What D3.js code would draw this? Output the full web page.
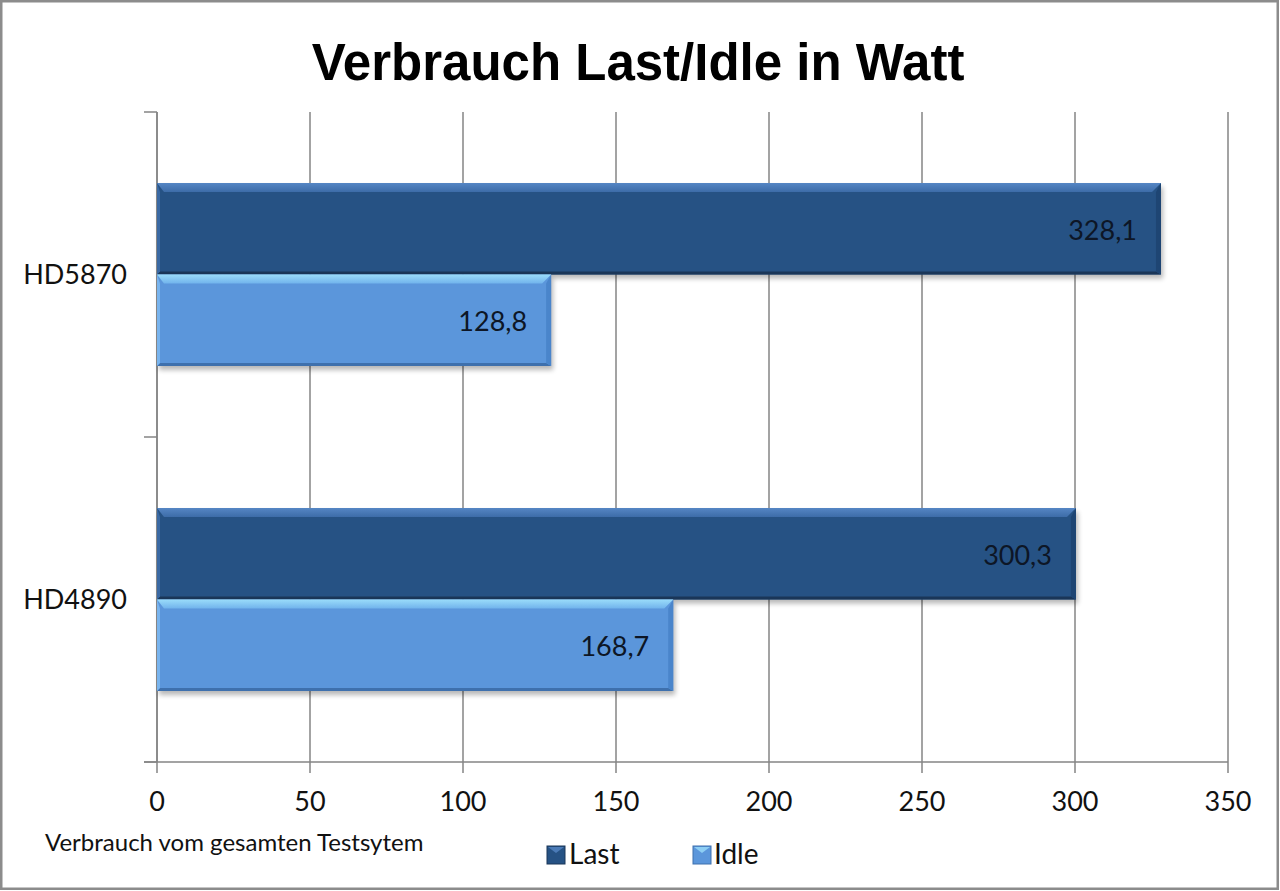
<!DOCTYPE html>
<html>
<head>
<meta charset="utf-8">
<script src="https://cdn.jsdelivr.net/npm/d3@7"></script>
<style>
  body { margin: 0; background: #fff; }
  svg { display: block; }
  text { font-family: Lato, "Open Sans", sans-serif; fill: #111; }
</style>
</head>
<body>
<script>
// Verbrauch Last/Idle — horizontal 3D-ish bar chart
const categories = ["HD5870", "HD4890"];
const seriesNames = ["Last", "Idle"];
const lastValues = [328.1, 300.3];
const idleValues = [128.8, 168.7];
const xTickValues = [0, 50, 100, 150, 200, 250, 300, 350];

const W = 1280, H = 891;
const plot = { left: 157, right: 1228, top: 112, bottom: 762 };

const SERIES_STYLE = {
    Last: { base: "#265284", top1: "#5586c4", top2: "#3d6ca8", bottom: "#1a3658", right: "#1e4573", left: "#3a69a3" },
    Idle: { base: "#5b96db", top1: "#9adcfa", top2: "#71b3ec", bottom: "#3e70ad", right: "#4a85cb", left: "#78b4ee" },
};

const de = d3.formatLocale({ decimal: ",", thousands: ".", grouping: [3], currency: ["", " €"] });
const fmt = de.format(".1f");

const rows = categories.map((c, i) => ({ cat: c, Last: lastValues[i], Idle: idleValues[i] }));

const svg = d3.select("body").append("svg").attr("width", W).attr("height", H);

const defs = svg.append("defs");
const shadow = defs.append("filter").attr("id", "shadow")
    .attr("x", "-5%").attr("y", "-20%").attr("width", "115%").attr("height", "150%");
shadow.append("feGaussianBlur").attr("stdDeviation", 2.5);

seriesNames.forEach(s => {
    const st = SERIES_STYLE[s];
    const g = defs.append("linearGradient").attr("id", "top-" + s)
        .attr("x1", 0).attr("y1", 0).attr("x2", 0).attr("y2", 1);
    g.append("stop").attr("offset", "0%").attr("stop-color", st.top1);
    g.append("stop").attr("offset", "100%").attr("stop-color", st.top2);
});

// outer frame
svg.append("rect")
    .attr("x", 1.25).attr("y", 1.25).attr("width", W - 3.5).attr("height", H - 3.5)
    .attr("fill", "#fff").attr("stroke", "#8c8c8c").attr("stroke-width", 2.5);

// title
svg.append("text")
    .attr("x", 638).attr("y", 80)
    .attr("text-anchor", "middle")
    .style("font-family", "'Liberation Sans', Arial, sans-serif")
    .style("font-weight", "bold")
    .style("font-size", "51px")
    .style("fill", "#000")
    .text("Verbrauch Last/Idle in Watt");

// scales
const x = d3.scaleLinear().domain([0, 350]).range([plot.left, plot.right]);
const y = d3.scaleBand().domain(categories).range([plot.top, plot.bottom])
    .paddingInner(0.437).paddingOuter(0.2185);
const ySub = d3.scaleBand().domain(seriesNames).range([0, y.bandwidth()]);

// gridlines (extend below axis as ticks)
svg.append("g").selectAll("line")
    .data(xTickValues)
    .join("line")
    .attr("x1", d => x(d)).attr("x2", d => x(d))
    .attr("y1", plot.top).attr("y2", plot.bottom + 11)
    .attr("stroke", "#858585").attr("stroke-width", 1.5);

// x axis line
svg.append("line")
    .attr("x1", plot.left - 13).attr("x2", plot.right)
    .attr("y1", plot.bottom).attr("y2", plot.bottom)
    .attr("stroke", "#858585").attr("stroke-width", 1.5);

// y axis line + category ticks
const catEdges = [plot.top].concat(categories.map(c => y(c) + y.bandwidth() + y.step() * y.paddingInner() / 2));
svg.append("g").selectAll("line")
    .data(catEdges.slice(0, catEdges.length - 1).concat([plot.bottom]))
    .join("line")
    .attr("x1", plot.left - 13).attr("x2", plot.left)
    .attr("y1", d => d).attr("y2", d => d)
    .attr("stroke", "#858585").attr("stroke-width", 1.5);
svg.append("line")
    .attr("x1", plot.left).attr("x2", plot.left)
    .attr("y1", plot.top).attr("y2", plot.bottom)
    .attr("stroke", "#858585").attr("stroke-width", 1.5);

// x tick labels
svg.append("g").selectAll("text")
    .data(xTickValues)
    .join("text")
    .attr("x", d => x(d)).attr("y", 811)
    .attr("text-anchor", "middle")
    .style("font-size", "27px")
    .text(d => d);

// category labels
svg.append("g").selectAll("text")
    .data(categories)
    .join("text")
    .attr("x", 127).attr("y", d => y(d) + y.bandwidth() / 2 + 9)
    .attr("text-anchor", "end")
    .style("font-size", "27px")
    .text(d => d);

// bars
const barsG = svg.append("g");
rows.forEach(r => {
    seriesNames.forEach(s => {
        const st = SERIES_STYLE[s];
        const x0 = x(0), x1 = x(r[s]);
        const y0 = y(r.cat) + ySub(s), h = ySub.bandwidth();
        const g = barsG.append("g");
        const tb = 9, rb = 5, bb = 3, lb = 3;

        g.append("rect")
            .attr("x", x0 + 2).attr("y", y0 + 4)
            .attr("width", x1 - x0).attr("height", h)
            .attr("fill", "#000").attr("opacity", 0.28)
            .attr("filter", "url(#shadow)");
        g.append("rect")
            .attr("x", x0).attr("y", y0)
            .attr("width", x1 - x0).attr("height", h)
            .attr("fill", st.base);
        // bottom edge
        g.append("polygon")
            .attr("points", [[x0, y0 + h], [x1, y0 + h], [x1 - rb, y0 + h - bb], [x0 + lb, y0 + h - bb]].join(" "))
            .attr("fill", st.bottom);
        // right edge
        g.append("polygon")
            .attr("points", [[x1, y0], [x1, y0 + h], [x1 - rb, y0 + h - bb], [x1 - rb, y0 + tb]].join(" "))
            .attr("fill", st.right);
        // left edge
        g.append("polygon")
            .attr("points", [[x0, y0], [x0 + lb, y0 + tb], [x0 + lb, y0 + h - bb], [x0, y0 + h]].join(" "))
            .attr("fill", st.left);
        // top bevel
        g.append("polygon")
            .attr("points", [[x0, y0], [x1, y0], [x1 - rb - 4, y0 + tb], [x0 + lb + 4, y0 + tb]].join(" "))
            .attr("fill", `url(#top-${s})`);
        // value label
        g.append("text")
            .attr("x", x1 - 24).attr("y", y0 + h / 2 + 11)
            .attr("text-anchor", "end")
            .style("font-size", "27px")
            .style("fill", "#0d1626")
            .text(fmt(r[s]));
    });
});

// footer note
svg.append("text")
    .attr("x", 45).attr("y", 851)
    .style("font-size", "24px")
    .text("Verbrauch vom gesamten Testsytem");

// legend
const legendPos = [{ sw: 547, tx: 569 }, { sw: 693, tx: 714 }];
seriesNames.forEach((s, i) => {
    const st = SERIES_STYLE[s];
    const lg = svg.append("g");
    lg.append("rect")
        .attr("x", legendPos[i].sw).attr("y", 846)
        .attr("width", 18).attr("height", 18)
        .attr("fill", st.base).attr("stroke", st.bottom).attr("stroke-width", 1);
    lg.append("polygon")
        .attr("points", [[legendPos[i].sw + 1, 847], [legendPos[i].sw + 17, 847], [legendPos[i].sw + 9, 853]].join(" "))
        .attr("fill", st.top1).attr("opacity", 0.8);
    lg.append("text")
        .attr("x", legendPos[i].tx).attr("y", 864)
        .style("font-size", "28px")
        .text(s);
});
</script>
</body>
</html>
